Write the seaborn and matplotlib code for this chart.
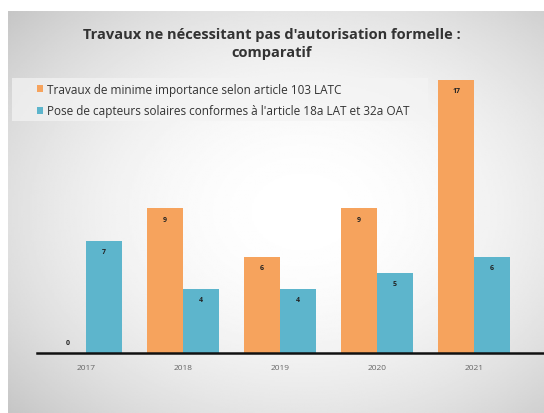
import numpy as np
import pandas as pd
import seaborn as sns
import matplotlib.pyplot as plt
from matplotlib.patches import Rectangle

years = ["2017", "2018", "2019", "2020", "2021"]
minime = [0, 9, 6, 9, 17]
solaires = [7, 4, 4, 5, 6]
series = ["Travaux de minime importance selon article 103 LATC",
          "Pose de capteurs solaires conformes à l'article 18a LAT et 32a OAT"]
colors = ["#F6A35D", "#5DB5CC"]
title = "Travaux ne nécessitant pas d'autorisation formelle :\ncomparatif"

df = pd.DataFrame({
    "annee": years * 2,
    "valeur": minime + solaires,
    "serie": [series[0]] * len(years) + [series[1]] * len(years),
})

sns.set_theme(style="white")
plt.rcParams["font.family"] = ["Open Sans", "DejaVu Sans"]

fig = plt.figure(figsize=(5.44, 4.14), dpi=100)

# radial grey-to-white background panel
bg = fig.add_axes([8 / 544, 0, 1 - 8 / 544, 1 - 12 / 414], zorder=-10)
yy, xx = np.mgrid[0:1:300j, 0:1:300j]
r = np.sqrt(((xx - 0.55) / 0.7) ** 2 + ((yy - 0.5) / 0.7) ** 2)
shade = np.clip(1 - 0.2 * r ** 2, 0, 1)
bg.imshow(shade, cmap="gray", vmin=0, vmax=1, aspect="auto", extent=[0, 1, 0, 1])
bg.axis("off")

# legend backdrop
fig.patches.append(Rectangle((12 / 544, 1 - 122 / 414), 416 / 544, 43 / 414,
                             transform=fig.transFigure, facecolor="#f4f4f4",
                             alpha=0.7, edgecolor="none", zorder=-5))

ax = fig.add_axes([37 / 544, 60 / 414, 1 - 37 / 544, (354 - 60) / 414])
ax.patch.set_alpha(0)
sns.barplot(data=df, x="annee", y="valeur", hue="serie", palette=colors,
            width=0.742, gap=0, saturation=1, linewidth=0, ax=ax, legend=True)

ax.set_xlim(-0.505, 4.72)
ax.set_ylim(0, 18.3)
ax.set_xlabel("")
ax.set_ylabel("")
ax.set_yticks([])
ax.tick_params(axis="x", length=0, labelsize=6, labelcolor="#666666", pad=8)
for s in ["top", "right", "left"]:
    ax.spines[s].set_visible(False)
ax.spines["bottom"].set_color("#111111")
ax.spines["bottom"].set_linewidth(1.8)

for cont in ax.containers:
    for bar in cont:
        h = bar.get_height()
        cx = bar.get_x() + bar.get_width() / 2
        off = -11 if h > 0 else 10
        ax.annotate(f"{int(h)}", (cx, h), xytext=(0, off), textcoords="offset pixels",
                    ha="center", va="center", fontsize=5, fontweight="bold",
                    color="#222222")

leg = ax.legend(loc="center left",
                bbox_to_anchor=(0, 1 - (101 - 60) / 294),
                frameon=False, fontsize=8.5, handlelength=0.55, handleheight=0.55,
                handletextpad=0.3, borderpad=0, labelspacing=0.75,
                borderaxespad=0)
for t in leg.get_texts():
    t.set_color("#333333")

fig.text(0.5, 1 - 44 / 414, title, ha="center", va="center", fontsize=10.5,
         fontweight="bold", color="#333333", linespacing=1.45)

fig.savefig("out.png", dpi=100)
